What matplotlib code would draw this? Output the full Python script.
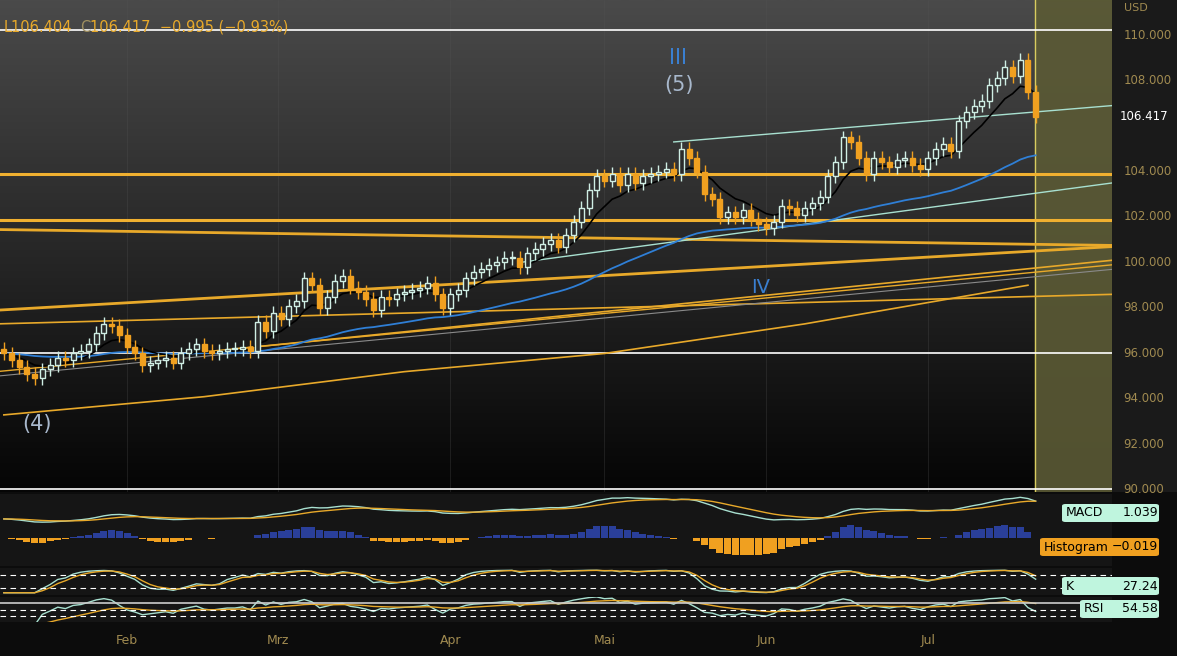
import numpy as np
import matplotlib.pyplot as plt
from matplotlib.patches import Rectangle, FancyBboxPatch

# daily closes (one per candle)
closes = [96.0, 95.7, 95.4, 95.1, 94.9, 95.3, 95.5, 95.8, 95.7, 96.0,
          96.1, 96.4, 96.9, 97.3, 97.2, 96.8, 96.3, 96.0, 95.5, 95.6,
          95.7, 95.8, 95.6, 96.0, 96.2, 96.4, 96.1, 96.0, 96.1, 96.2,
          96.2, 96.3, 96.1, 97.4, 97.0, 97.8, 97.5, 98.1, 98.3, 99.3,
          99.0, 98.0, 98.5, 99.2, 99.4, 98.9, 98.7, 98.4, 97.9, 98.5,
          98.4, 98.6, 98.7, 98.8, 98.9, 99.1, 98.6, 98.0, 98.6, 98.8,
          99.3, 99.6, 99.7, 99.9, 100.0, 100.2, 100.2, 99.8, 100.4, 100.6,
          100.8, 101.0, 100.7, 101.2, 101.8, 102.4, 103.2, 103.8, 103.6, 103.9,
          103.4, 103.9, 103.5, 103.8, 103.9, 104.0, 104.1, 103.9, 105.0, 104.6,
          104.0, 103.0, 102.8, 102.0, 102.2, 102.0, 102.3, 101.9, 101.7, 101.5,
          101.8, 102.5, 102.4, 102.1, 102.4, 102.6, 102.9, 103.8, 104.4, 105.5,
          105.3, 104.6, 103.9, 104.6, 104.4, 104.2, 104.5, 104.6, 104.3, 104.1,
          104.6, 105.0, 105.2, 104.9, 106.2, 106.6, 106.9, 107.1, 107.8, 108.1,
          108.6, 108.2, 108.9, 107.5, 106.417]
wick = 0.3

month_labels = ["Feb", "Mrz", "Apr", "Mai", "Jun", "Jul"]
month_pos = [16, 35.6, 58, 78, 99, 120]
price_ticks = [90, 92, 94, 96, 98, 100, 102, 104, 108, 110]

# long-term moving average anchors (index, value)
ma200_x = [0, 26, 52, 78, 104, 133]
ma200_y = [93.3, 94.1, 95.2, 96.0, 97.3, 99.0]

# trend lines: (x0, y0, x1, y1, color, width)
trend_lines = [
    (-1, 101.45, 144, 100.75, "#e8a92a", 2.0),
    (-1, 97.9, 144, 100.7, "#e8a92a", 2.0),
    (-1, 97.3, 144, 98.6, "#e8a92a", 1.2),
    (30, 96.2, 144, 100.1, "#e8a92a", 1.2),
    (-1, 95.2, 144, 99.9, "#e8a92a", 1.0),
    (-1, 95.0, 144, 99.7, "#8a8a8a", 0.8),
    (87, 105.3, 144, 106.9, "#a8e0d0", 1.0),
    (67, 100.0, 144, 103.5, "#a8e0d0", 1.0),
]
orange_h = [103.9, 101.85]
white_h = [110.2, 96.0, 90.05]

# indicator tags: (label, value, colour, pixel x left, pixel y)
tags = [
    ("MACD", "1.039", "#bff5de", 1066, 513),
    ("Histogram", "\u22120.019", "#f0a020", 1044, 547),
    ("K", "27.24", "#bff5de", 1066, 586),
    ("RSI", "54.58", "#bff5de", 1084, 609),
]

c = np.array(closes)
n = len(c)
idx = np.arange(n)
opens = np.concatenate([[c[0] + 0.2], c[:-1]])

def ema(v, span):
    a = 2 / (span + 1)
    out = np.empty_like(v)
    out[0] = v[0]
    for k in range(1, len(v)):
        out[k] = a * v[k] + (1 - a) * out[k - 1]
    return out

W, H = 1177, 656
fig = plt.figure(figsize=(W / 100, H / 100), dpi=100, facecolor="#0c0c0c")

def pax(x0, y0, x1, y1):
    return fig.add_axes([x0 / W, 1 - y1 / H, (x1 - x0) / W, (y1 - y0) / H])

xmax = 1112 / 7.7 - 0.5
ax = pax(0, 0, 1112, 492)
ax.set_xlim(-0.5, xmax)
ax.set_ylim(89.91, 111.54)
grad = np.linspace(0, 1, 256).reshape(-1, 1)
ax.imshow(grad, extent=[-0.5, xmax, 89.91, 111.54], aspect="auto",
          cmap=plt.matplotlib.colors.LinearSegmentedColormap.from_list("g", ["#050505", "#4a4a4a"]),
          origin="lower", zorder=0)
ax.axvspan(133.9, xmax, color="#5b5a35", alpha=0.9, zorder=1)
ax.axvline(133.9, color="#d8cc60", lw=1, zorder=2)
for m in month_pos:
    ax.axvline(m, color="#555555", lw=0.5, alpha=0.4, zorder=1)

for y in white_h:
    ax.axhline(y, color="white", lw=1.2, zorder=3)
for y in orange_h:
    ax.axhline(y, color="#f0b030", lw=2.2, zorder=3)
for x0, y0, x1, y1, col, lw in trend_lines:
    ax.plot([x0, x1], [y0, y1], color=col, lw=lw, zorder=3)
ax.plot(ma200_x, ma200_y, color="#e8a92a", lw=1.2, zorder=3)
ax.plot(idx, ema(c, 50), color="#2f7fd6", lw=1.3, zorder=4)
ax.plot(idx, ema(c, 8), color="black", lw=1.2, zorder=4)

for i in range(n):
    o, cl = opens[i], c[i]
    up = cl >= o
    lo, hi = min(o, cl), max(o, cl)
    ax.vlines(i, lo - wick, hi + wick, color="#cfeee4" if up else "#f0a020", lw=1, zorder=5)
    if up:
        ax.add_patch(Rectangle((i - 0.32, lo), 0.64, max(hi - lo, 0.05), fc="#2a2a2a", ec="#cfeee4", lw=1, zorder=6))
    else:
        ax.add_patch(Rectangle((i - 0.32, lo), 0.64, max(hi - lo, 0.05), fc="#f0a020", ec="#f0a020", lw=1, zorder=6))

ax.set_xticks([]); ax.set_yticks([])
for s in ax.spines.values():
    s.set_visible(False)

ax.text(87.5, 109.0, "III", color="#3a7fd0", fontsize=15, ha="center", va="center")
ax.text(87.7, 107.8, "(5)", color="#a8b8cc", fontsize=15, ha="center", va="center")
ax.text(98.3, 98.9, "IV", color="#3a7fd0", fontsize=14, ha="center", va="center")
ax.text(4.3, 92.9, "(4)", color="#a8b8cc", fontsize=15, ha="center", va="center")
ax.text(0, 110.35, "L106.404", color="#e8a92a", fontsize=10.5, va="center")
ax.text(9.9, 110.35, "C", color="#a09060", fontsize=10.5, va="center")
ax.text(11.2, 110.35, "106.417  \u22120.995 (\u22120.93%)", color="#e8a92a", fontsize=10.5, va="center")

# right price axis
rx = pax(1112, 0, 1177, 492)
rx.set_facecolor("#1a1a1a")
rx.set_ylim(89.91, 111.54); rx.set_xlim(0, 1)
rx.set_xticks([]); rx.set_yticks([])
for s in rx.spines.values():
    s.set_visible(False)
for t in price_ticks:
    rx.text(0.18, t, f"{t:.3f}", color="#a08a50", fontsize=8.5, va="center")
rx.text(0.18, 111.2, "USD", color="#a08a50", fontsize=8, va="center")
rx.text(0.12, c[-1], f"{c[-1]:.3f}", color="white", fontsize=8.5, va="center",
        bbox=dict(fc="#1a1a1a", ec="none", pad=2))

def panel(y0, y1):
    p = pax(0, y0, 1112, y1)
    p.set_facecolor("#151515")
    p.set_xlim(-0.5, xmax)
    p.set_xticks([]); p.set_yticks([])
    for s in p.spines.values():
        s.set_visible(False)
    return p

# MACD
macd = ema(c, 12) - ema(c, 26)
sig = ema(macd, 9)
hist = macd - sig
p1 = panel(494, 566)
p1.plot(idx, macd * 0.6 + 0.7, color="#a8e0d0", lw=1)
p1.plot(idx, sig * 0.6 + 0.7, color="#e8a92a", lw=1)
p1.bar(idx, hist * 1.5, bottom=0, width=0.9,
       color=["#2a3f9a" if h > 0 else "#f0a020" for h in hist])
p1.set_ylim(-1.0, 1.6)

# Stochastic
lo14 = np.array([c[max(0, i - 13):i + 1].min() for i in range(n)])
hi14 = np.array([c[max(0, i - 13):i + 1].max() for i in range(n)])
k = 100 * (c - lo14) / np.maximum(hi14 - lo14, 0.1)
k = ema(k, 3)
d = ema(k, 3)
p2 = panel(568, 595)
p2.plot(idx, k, color="#a8e0d0", lw=1)
p2.plot(idx, d, color="#e8a92a", lw=1)
for y in (20, 80):
    p2.axhline(y, color="white", ls=(0, (5, 4)), lw=0.8)
p2.set_ylim(-10, 110)

# RSI
diff = np.diff(c, prepend=c[0])
g = ema(np.clip(diff, 0, None), 14)
l = ema(np.clip(-diff, 0, None), 14)
rsi = 100 - 100 / (1 + g / np.maximum(l, 1e-6))
p3 = panel(597, 622)
p3.plot(idx, rsi, color="#a8e0d0", lw=1)
p3.plot(idx, ema(rsi, 14), color="#e8a92a", lw=1)
p3.axhline(70, color="#cccccc", lw=1.2)
for y in (30, 50):
    p3.axhline(y, color="white", ls=(0, (5, 4)), lw=0.8)
p3.set_ylim(10, 90)

for lab, val, fc, px, py in tags:
    box = FancyBboxPatch(((px - 4) / W, 1 - (py + 9) / H), (1163 - px) / W, 18 / H,
                         boxstyle="round,pad=0,rounding_size=0.003", fc=fc, ec="none",
                         transform=fig.transFigure, figure=fig)
    fig.patches.append(box)
    fig.text(px / W, 1 - py / H, lab, fontsize=9, color="black", va="center")
    fig.text(1158 / W, 1 - py / H, val, fontsize=9, color="black", va="center", ha="right")

# x axis labels
xa = pax(0, 625, 1112, 656)
xa.set_facecolor("#0c0c0c")
xa.set_xlim(-0.5, xmax); xa.set_ylim(0, 1)
xa.set_yticks([]); xa.set_xticks([])
for s in xa.spines.values():
    s.set_visible(False)
for m, lab in zip(month_pos, month_labels):
    xa.text(m, 0.5, lab, color="#a08a50", fontsize=9, ha="center", va="center")

fig.savefig("out.png", dpi=100, facecolor=fig.get_facecolor())
